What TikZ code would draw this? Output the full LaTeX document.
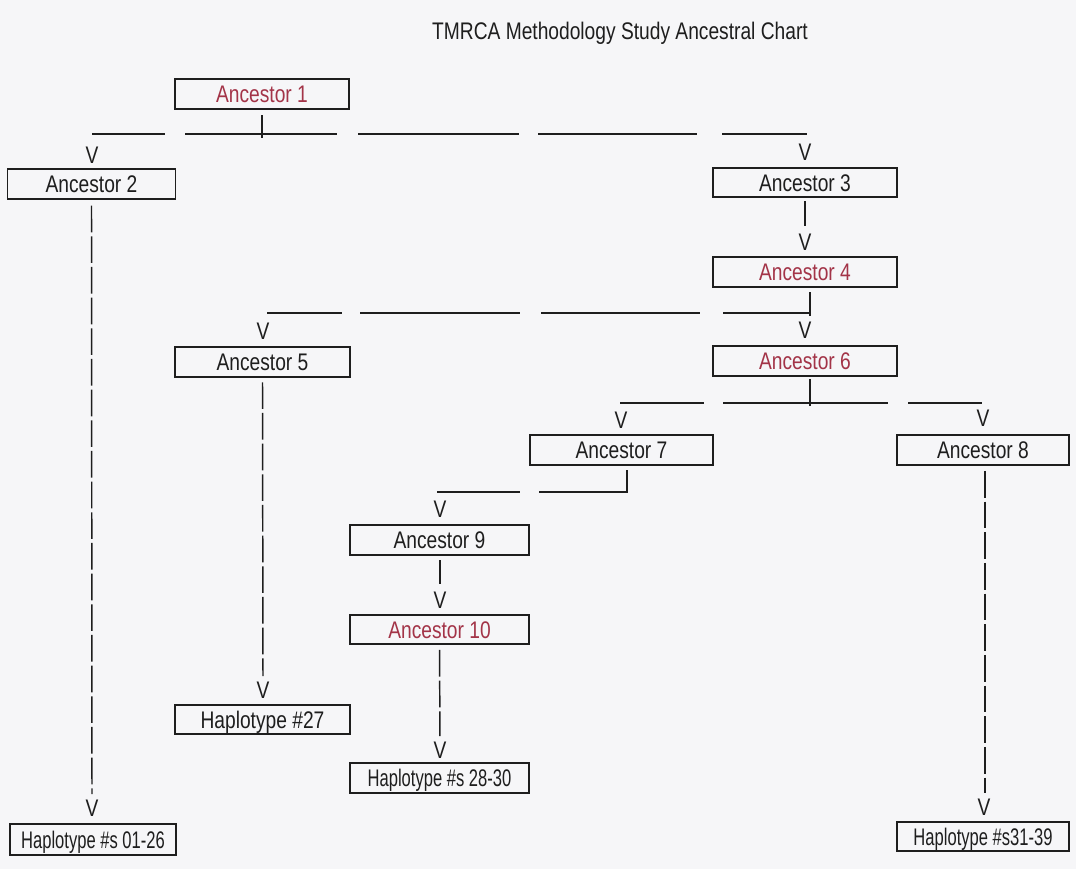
\documentclass[tikz,border=0pt]{standalone}
\usepackage{fontspec}
\setmainfont{Liberation Sans}
\newfontfamily\nf{Liberation Sans}[FakeStretch=0.8]
\newfontfamily\nnf{Liberation Sans}[FakeStretch=0.69]
\definecolor{ink}{RGB}{30,30,30}
\definecolor{anc}{RGB}{163,52,72}
\definecolor{paper}{RGB}{246,246,248}
\begin{document}
\begin{tikzpicture}[x=0.75pt,y=-0.75pt,
  bx/.style 2 args={draw=ink, line width=0.9pt, minimum width=#1*0.75pt, minimum height=#2*0.75pt,
    inner sep=0pt, text height=12.9pt, text depth=0pt, font=\nf\fontsize{18}{20}\selectfont, text=ink},
  redtxt/.style={text=anc},
  smalltxt/.style={font=\nnf\fontsize{18}{20}\selectfont},
  vmark/.style={inner sep=0pt, font=\nf\fontsize{18}{20}\selectfont, text=ink},
  ln/.style={draw=ink, line width=1.1pt},
  vdash/.style={ln, dash pattern=on 20pt off 3pt}]
\fill[paper] (0,0) rectangle (1076,869);
\useasboundingbox (0,0) rectangle (1076,869);

% title
\node[inner sep=0pt, font=\nf\fontsize{18}{20}\selectfont, text=ink] (title) at (620,33.5) {TMRCA Methodology Study Ancestral Chart};

% boxes
\node[bx={174}{30}, redtxt] (a1) at (262,94) {Ancestor 1};
\node[bx={168}{30}] (a2) at (91.5,184) {Ancestor 2};
\node[bx={184}{29}] (a3) at (805,182.5) {Ancestor 3};
\node[bx={184}{30}, redtxt] (a4) at (805,272) {Ancestor 4};
\node[bx={175}{30}] (a5) at (262.5,362) {Ancestor 5};
\node[bx={184}{30}, redtxt] (a6) at (805,361) {Ancestor 6};
\node[bx={183}{30}] (a7) at (621.5,450) {Ancestor 7};
\node[bx={172}{30}] (a8) at (983,450) {Ancestor 8};
\node[bx={179}{30}] (a9) at (439.5,540) {Ancestor 9};
\node[bx={179}{29}, redtxt] (a10) at (439.5,629.5) {Ancestor 10};
\node[bx={175}{29}] (h27) at (262.5,719.5) {Haplotype \#27};
\node[bx={179}{30}, smalltxt] (h28) at (439.5,778) {Haplotype \#s 28-30};
\node[bx={166}{31}, smalltxt] (h01) at (93,839.5) {Haplotype \#s 01-26};
\node[bx={172}{29}, smalltxt] (h31) at (983,836.5) {Haplotype \#s31-39};

% V marks
\node[vmark] (v2) at (92,155) {V};
\node[vmark] (v3) at (805,152) {V};
\node[vmark] (v4) at (805,242) {V};
\node[vmark] (v5) at (263,331) {V};
\node[vmark] (v6) at (805,330) {V};
\node[vmark] (v7) at (621,420) {V};
\node[vmark] (v8) at (983,418) {V};
\node[vmark] (v9) at (440,509) {V};
\node[vmark] (v10) at (440,600) {V};
\node[vmark] (vh01) at (92,808) {V};
\node[vmark] (vh27) at (263,690) {V};
\node[vmark] (vh28) at (440,750) {V};
\node[vmark] (vh31) at (984,807) {V};

% bar end and tick coordinates
\coordinate (b1L) at (92,134);  \coordinate (b1R) at (807,134);
\coordinate (b2L) at (267,313); \coordinate (b2R) at (810,313);
\coordinate (b3L) at (620,403); \coordinate (b3R) at (982,403);
\coordinate (b4L) at (437,492); \coordinate (b4R) at (627,492);
\coordinate (t1a) at (262,115); \coordinate (t1b) at (262,138);
\coordinate (t4a) at (810,292); \coordinate (t4b) at (810,316);
\coordinate (t6a) at (810,379); \coordinate (t6b) at (810,406);
\coordinate (t7a) at (627,470); \coordinate (t7b) at (627,493);
\coordinate (t3a) at (805,201); \coordinate (t3b) at (805,226);
\coordinate (t9a) at (440,560); \coordinate (t9b) at (440,584);

% broken horizontal bars
\draw[ln, dash pattern=on 54.75pt off 15pt on 114pt off 15.75pt on 120.75pt off 14.25pt on 119.25pt off 18.75pt on 63.75pt off 100pt] (b1L) -- (b1R);
\draw[ln, dash pattern=on 56.25pt off 13.5pt on 120pt off 15.75pt on 119.25pt off 17.25pt on 65.25pt off 100pt] (b2L) -- (b2R);
\draw[ln, dash pattern=on 63pt off 14.25pt on 123.75pt off 15pt on 55.5pt off 100pt] (b3L) -- (b3R);
\draw[ln, dash pattern=on 62.25pt off 14.25pt on 66pt off 100pt] (b4L) -- (b4R);

% ticks from boxes
\draw[ln] (t1a) -- (t1b);
\draw[ln] (t4a) -- (t4b);
\draw[ln] (t6a) -- (t6b);
\draw[ln] (t7a) -- (t7b);
\draw[ln] (t3a) -- (t3b);
\draw[ln] (t9a) -- (t9b);

% long dashed descents
\draw[vdash, shorten <=4.5pt, shorten >=4pt] (a2.south) -- (vh01.north);
\draw[vdash, shorten <=3.5pt, shorten >=4pt] (a5.south) -- (vh27.north);
\draw[vdash, shorten <=4pt, shorten >=4pt] (a10.south) -- (vh28.north);
\draw[vdash, shorten <=4pt, shorten >=4pt] ([xshift=1.5pt]a8.south) -- ([xshift=0.75pt]vh31.north);
\end{tikzpicture}
\end{document}
